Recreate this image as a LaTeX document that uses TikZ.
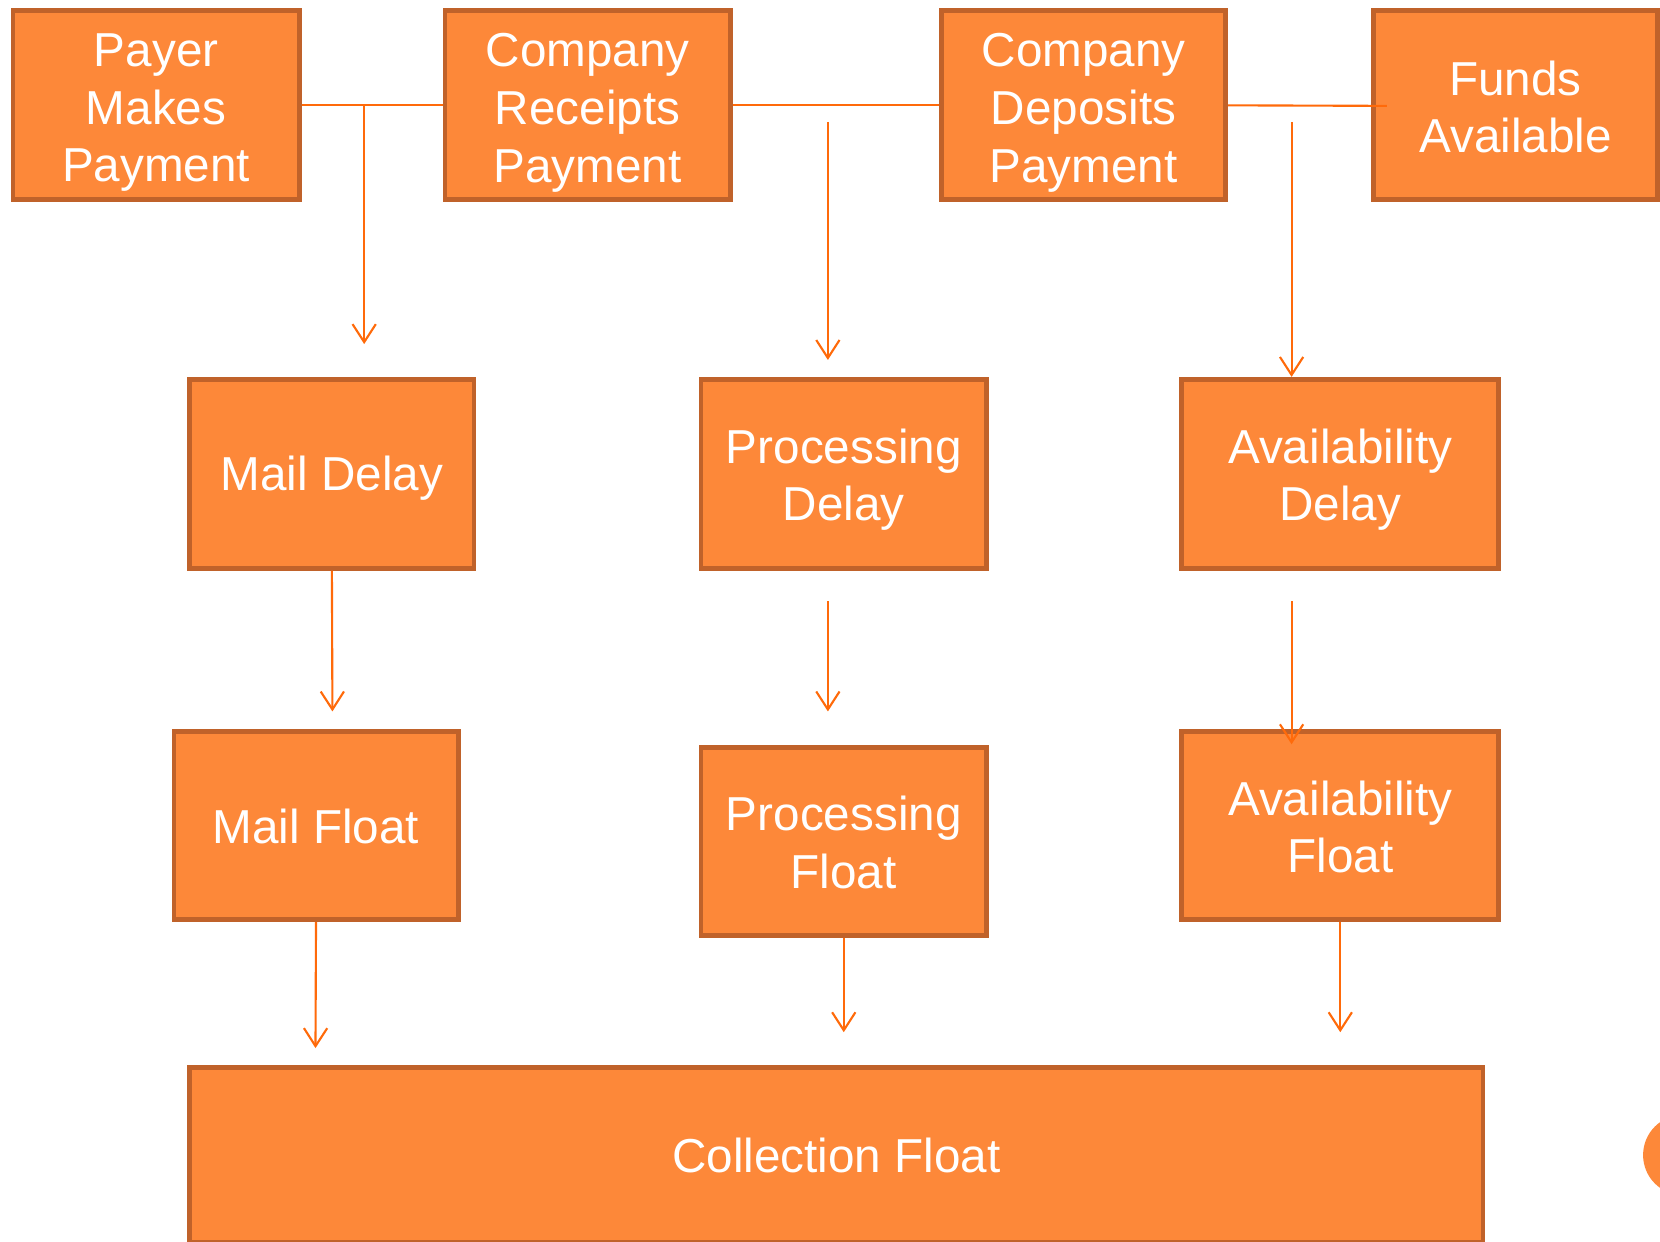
\documentclass[tikz,border=0pt]{standalone}
\usepackage{fontspec}
\setmainfont{Liberation Sans}
\usetikzlibrary{arrows.meta}
\definecolor{boxfill}{HTML}{FD8839}
\definecolor{boxline}{HTML}{C0622A}
\definecolor{arrowc}{HTML}{FF6A0A}
\begin{document}
\begin{tikzpicture}[x=1pt,y=-1pt,
  box/.style={draw=boxline, line width=4.5pt, fill=boxfill, inner sep=0pt},
  lbl/.style={text=white, inner sep=0pt, align=center, font=\fontsize{45}{54.5}\selectfont},
  conn/.style={draw=arrowc, line width=2pt},
  arr/.style={conn, -{Straight Barb[length=17pt,width=22pt]}}]
\useasboundingbox (0,0) rectangle (1568,1173);
\clip (0,0) rectangle (1568,1173);
% top row
\node[box, minimum width=270.5pt, minimum height=178.5pt,
  label={[lbl,yshift=-7pt]center:{Payer\\Makes\\Payment}}] (payer) at (147.5,99.5) {};
\node[box, minimum width=269.5pt, minimum height=178.5pt,
  label={[lbl,yshift=-7pt]center:{Company\\Receipts\\Payment}}] (receipts) at (555,99.5) {};
\node[box, minimum width=268.5pt, minimum height=178.5pt,
  label={[lbl,yshift=-7pt]center:{Company\\Deposits\\Payment}}] (deposits) at (1023.5,99.5) {};
\node[box, minimum width=268.5pt, minimum height=178.5pt,
  label={[lbl,yshift=-1.5pt]center:{Funds\\Available}}] (funds) at (1431.5,99.5) {};
% delay row
\node[box, minimum width=268.5pt, minimum height=178.5pt,
  label={[lbl,yshift=-4pt]center:{Mail Delay}}] (maild) at (313.5,447.5) {};
\node[box, minimum width=269.5pt, minimum height=178.5pt,
  label={[lbl,yshift=-5.5pt]center:{Processing\\Delay}}] (procd) at (797,447.5) {};
\node[box, minimum width=299.5pt, minimum height=178.5pt,
  label={[lbl,yshift=-5.5pt]center:{Availability\\Delay}}] (availd) at (1266,447.5) {};
% float row
\node[box, minimum width=268.5pt, minimum height=177.5pt,
  label={[lbl,yshift=-1pt]center:{Mail Float}}] (mailf) at (298.5,780) {};
\node[box, minimum width=269.5pt, minimum height=177.5pt,
  label={[lbl,yshift=-1pt]center:{Processing\\Float}}] (procf) at (797,795) {};
\node[box, minimum width=299.5pt, minimum height=177.5pt,
  label={[lbl,yshift=-1pt]center:{Availability\\Float}}] (availf) at (1266,780) {};
% collection
\node[box, minimum width=1221.5pt, minimum height=165.5pt,
  label={[lbl]center:{Collection Float}}] (coll) at (790,1091) {};
% partial circle at right edge
\fill[boxfill] (1590,1091) circle (38);
% coordinates for free ends
\coordinate (b1) at (344,100);
\coordinate (t1) at (344,325);
\coordinate (s2) at (782,115);
\coordinate (t2) at (782,340);
\coordinate (e3) at (1310,100);
\coordinate (s3) at (1220,115);
\coordinate (t3) at (1220,356);
\coordinate (t4) at (314,672);
\coordinate (s5) at (782,568);
\coordinate (t5) at (782,672);
\coordinate (s6) at (1220,568);
\coordinate (t6) at (1220,703);
\coordinate (t7) at (298,990);
\coordinate (t8) at (797,975);
\coordinate (t9) at (1266,975);
% connectors
\draw[conn] (payer.east) -- (receipts.west);
\draw[arr] (b1) -- (t1);
\draw[conn] (receipts.east) -- (deposits.west);
\draw[arr] (s2) -- (t2);
\draw[conn] (deposits.east) -- (e3);
\draw[arr] (s3) -- (t3);
\draw[arr] (maild.south) -- (t4);
\draw[arr] (s5) -- (t5);
\draw[arr] (s6) -- (t6);
\draw[arr] (mailf.south) -- (t7);
\draw[arr] (procf.south) -- (t8);
\draw[arr] (availf.south) -- (t9);
\end{tikzpicture}
\end{document}
